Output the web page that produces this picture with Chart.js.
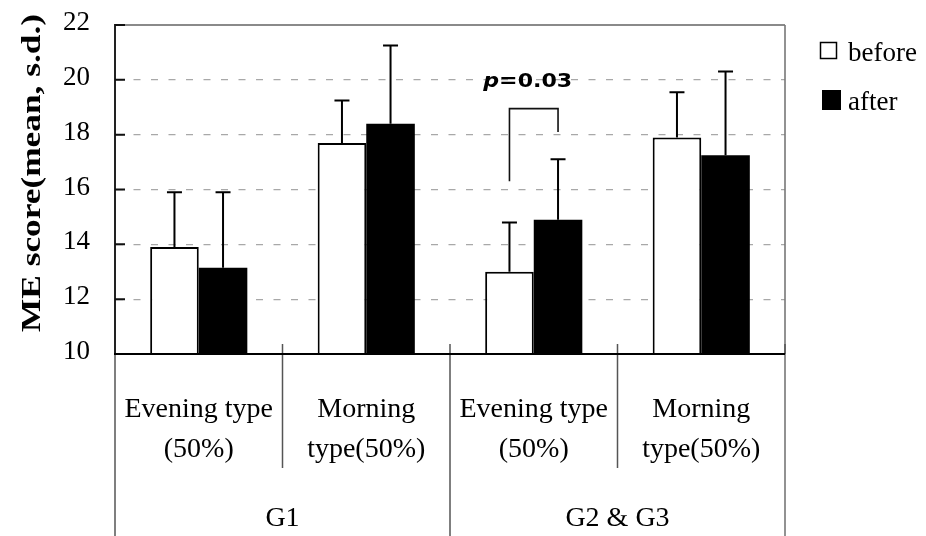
<!DOCTYPE html>
<html>
<head>
<meta charset="utf-8">
<script src="https://cdn.jsdelivr.net/npm/chart.js@4/dist/chart.umd.min.js"></script>
<style>
  html, body { margin: 0; padding: 0; background: #fff; }
  canvas { display: block; }
</style>
</head>
<body>
<canvas id="chart" width="926" height="536"></canvas>
<script>
// ME score before/after by chronotype group
const categories = ['G1 Evening', 'G1 Morning', 'G2&G3 Evening', 'G2&G3 Morning'];
const typeLabels = [['Evening type', '(50%)'], ['Morning', 'type(50%)'], ['Evening type', '(50%)'], ['Morning', 'type(50%)']];
const groupNames = ['G1', 'G2 & G3'];
const seriesNames = ['before', 'after'];
const beforeMean = [13.9, 17.7, 13.0, 17.9];
const afterMean = [13.15, 18.4, 14.9, 17.25];
const beforeSD = [2.0, 1.55, 1.8, 1.65];
const afterSD = [2.75, 2.85, 2.2, 3.05];
const yTicks = [10, 12, 14, 16, 18, 20, 22];
const pLabel = ['p', '=0.03'];
// significance bracket levels (score units): top, left leg end, right leg end
const bracketLevels = [18.95, 16.3, 18.1];

const SERIF = '"Liberation Serif", "Times New Roman", serif';

const decorations = {
  id: 'decorations',
  afterDatasetsDraw(chart) {
    const { ctx, scales: { y } } = chart;
    ctx.save();
    ctx.strokeStyle = '#000';
    ctx.lineWidth = 2;
    // upper s.d. whiskers
    [[beforeMean, beforeSD], [afterMean, afterSD]].forEach(([m, s], di) => {
      chart.getDatasetMeta(di).data.forEach((bar, i) => {
        const yb = y.getPixelForValue(m[i]);
        const yt = y.getPixelForValue(m[i] + s[i]);
        ctx.beginPath();
        ctx.moveTo(bar.x, yb);
        ctx.lineTo(bar.x, yt);
        ctx.moveTo(bar.x - 7.5, yt);
        ctx.lineTo(bar.x + 7.5, yt);
        ctx.stroke();
      });
    });
    // bracket over G2 & G3 evening type
    const xl = chart.getDatasetMeta(0).data[2].x;
    const xr = chart.getDatasetMeta(1).data[2].x;
    const yTop = y.getPixelForValue(bracketLevels[0]);
    ctx.lineWidth = 1.6;
    ctx.strokeStyle = '#111';
    ctx.beginPath();
    ctx.moveTo(xl, y.getPixelForValue(bracketLevels[1]));
    ctx.lineTo(xl, yTop);
    ctx.lineTo(xr, yTop);
    ctx.lineTo(xr, y.getPixelForValue(bracketLevels[2]));
    ctx.stroke();
    // p value, slightly widened
    ctx.fillStyle = '#000';
    ctx.textBaseline = 'alphabetic';
    ctx.textAlign = 'left';
    ctx.font = 'italic bold 20px "DejaVu Sans"';
    const w1 = ctx.measureText(pLabel[0]).width;
    ctx.font = 'bold 20px "DejaVu Sans"';
    const w2 = ctx.measureText(pLabel[1]).width;
    const sx = 89 / (w1 + w2);
    const cx = (xl + xr) / 2 - 6;
    ctx.translate(cx, yTop - 22);
    ctx.scale(sx, 1);
    const x0 = -(w1 + w2) / 2;
    ctx.font = 'italic bold 20px "DejaVu Sans"';
    ctx.fillText(pLabel[0], x0, 0);
    ctx.font = 'bold 20px "DejaVu Sans"';
    ctx.fillText(pLabel[1], x0 + w1, 0);
    ctx.restore();
  },
  afterDraw(chart) {
    const { ctx, chartArea: a, scales: { x, y } } = chart;
    const H = chart.height;
    const step = (a.right - a.left) / categories.length;
    ctx.save();
    // plot frame
    ctx.strokeStyle = '#8a8a8a';
    ctx.lineWidth = 2;
    ctx.beginPath();
    ctx.moveTo(a.left, a.top);
    ctx.lineTo(a.right, a.top);
    ctx.stroke();
    ctx.strokeStyle = '#777';
    ctx.lineWidth = 1.6;
    ctx.beginPath();
    ctx.moveTo(a.right, a.top);
    ctx.lineTo(a.right, H);
    ctx.stroke();
    // category separators below the axis
    ctx.strokeStyle = '#555';
    ctx.lineWidth = 1.5;
    ctx.beginPath();
    ctx.moveTo(a.left, a.bottom); ctx.lineTo(a.left, H);
    const mid = (a.left + a.right) / 2;
    ctx.moveTo(mid, a.bottom - 10); ctx.lineTo(mid, H);
    [1, 3].forEach(k => {
      const xs = a.left + step * k;
      ctx.moveTo(xs, a.bottom - 10);
      ctx.lineTo(xs, 468);
    });
    ctx.moveTo(a.right, a.bottom - 10); ctx.lineTo(a.right, a.bottom);
    ctx.stroke();
    // y inward ticks
    ctx.strokeStyle = '#111';
    ctx.lineWidth = 2;
    ctx.beginPath();
    yTicks.forEach(v => {
      const yy = y.getPixelForValue(v);
      ctx.moveTo(a.left, yy);
      ctx.lineTo(a.left + 10, yy);
    });
    ctx.stroke();
    // x axis line
    ctx.strokeStyle = '#000';
    ctx.lineWidth = 2;
    ctx.beginPath();
    ctx.moveTo(a.left - 1, a.bottom);
    ctx.lineTo(a.right, a.bottom);
    ctx.stroke();
    // category labels
    ctx.fillStyle = '#000';
    ctx.textAlign = 'center';
    ctx.textBaseline = 'alphabetic';
    ctx.font = '28px ' + SERIF;
    typeLabels.forEach((lines, i) => {
      const cx = x.getPixelForValue(i);
      ctx.fillText(lines[0], cx, 417);
      ctx.fillText(lines[1], cx, 457);
    });
    groupNames.forEach((g, i) => {
      ctx.fillText(g, a.left + step * (2 * i + 1), 526);
    });
    // legend
    ctx.textAlign = 'left';
    ctx.font = '27px ' + SERIF;
    ctx.fillStyle = '#fff';
    ctx.fillRect(820.5, 42.5, 16, 16);
    ctx.strokeStyle = '#000';
    ctx.lineWidth = 1.5;
    ctx.strokeRect(820.5, 42.5, 16, 16);
    ctx.fillStyle = '#000';
    ctx.fillRect(822, 90, 19, 20);
    ctx.fillText(seriesNames[0], 848, 61);
    ctx.fillText(seriesNames[1], 848, 110);
    // y axis title
    const title = 'ME score(mean, s.d.)';
    ctx.font = 'bold 28px ' + SERIF;
    const tw = ctx.measureText(title).width;
    ctx.translate(40, 173);
    ctx.rotate(-Math.PI / 2);
    ctx.scale(318 / tw, 1);
    ctx.textAlign = 'center';
    ctx.fillText(title, 0, 0);
    ctx.restore();
  }
};

new Chart(document.getElementById('chart'), {
  type: 'bar',
  data: {
    labels: categories,
    datasets: [
      {
        label: seriesNames[0],
        data: beforeMean,
        backgroundColor: '#fff',
        borderColor: '#000',
        borderWidth: 2,
        borderSkipped: 'bottom'
      },
      {
        label: seriesNames[1],
        data: afterMean,
        backgroundColor: '#000',
        borderColor: '#000',
        borderWidth: 0
      }
    ]
  },
  options: {
    responsive: false,
    devicePixelRatio: 1,
    animation: false,
    layout: { padding: { left: 0, top: 25, right: 141, bottom: 182 } },
    datasets: { bar: { categoryPercentage: 0.58, barPercentage: 1.0 } },
    plugins: { legend: { display: false }, tooltip: { enabled: false } },
    scales: {
      x: { display: false },
      y: {
        min: 10,
        max: 22,
        afterFit: s => { s.width = 115; s.paddingTop = 0; s.paddingBottom = 0; },
        afterBuildTicks: s => { s.ticks = yTicks.map(v => ({ value: v })); },
        ticks: {
          color: '#000',
          font: { family: SERIF, size: 27 },
          padding: 25,
          labelOffset: -2
        },
        grid: {
          drawTicks: false,
          color: c => (c.tick && (c.tick.value === 10 || c.tick.value === 22)) ? 'rgba(0,0,0,0)' : '#a8a8a8',
          lineWidth: 1.3
        },
        border: { display: true, color: '#222', width: 2, dash: [7, 10.5] }
      }
    }
  },
  plugins: [decorations]
});
</script>
</body>
</html>
